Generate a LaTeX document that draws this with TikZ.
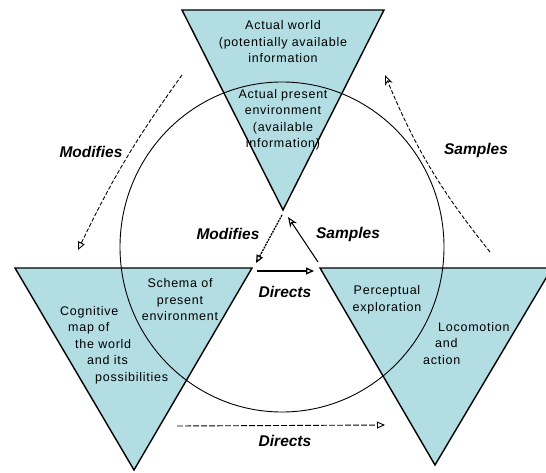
\documentclass[tikz,border=0pt]{standalone}
\usepackage{fontspec}
\setmainfont{Liberation Sans}
\newfontfamily\lblfont[LetterSpace=6]{Liberation Sans}
\usetikzlibrary{arrows.meta}

\newlength{\du}
\setlength{\du}{1pt}

\definecolor{trifill}{RGB}{178,221,226}

\tikzset{
  wedge/.style={fill=trifill, draw=black, line width=1.4\du, line join=miter},
  lbl/.style={font=\lblfont\fontsize{12.5}{16.5}\selectfont, align=center, inner sep=0pt},
  verb/.style={font=\bfseries\itshape\fontsize{15.5}{18}\selectfont, inner sep=0pt},
  flow/.style={line width=0.9\du, dash pattern=on 4pt off 2pt},
  opentip/.style={-{Triangle[open,length=8pt,width=7pt]}},
  pointtip/.style={-{Stealth[open,length=10pt,width=8pt,inset=3pt]}},
}

\begin{document}
\begin{tikzpicture}
\pgftransformxscale{1.000000}
\pgftransformyscale{-1.000000}
\useasboundingbox (0\du,0\du) rectangle (546\du,473\du);

% the three wedges
\draw[wedge] (182\du,10\du)--(384\du,10\du)--(283\du,210\du)--cycle;
\draw[wedge] (15\du,268\du)--(252\du,268\du)--(134\du,470\du)--cycle;
\draw[wedge] (320\du,268\du)--(552\du,268\du)--(435\du,465\du)--cycle;

% the circle
\draw[line width=0.9\du] (282\du,247\du) ellipse [x radius=162\du, y radius=165\du];

% texts in the wedges
\node[lbl] (world) at (283\du,42\du) {Actual world\\(potentially available\\information};
\node[lbl] (present) at (283\du,120\du) {Actual present\\environment\\(available\\information)};
\node[lbl] (schema) at (180\du,300\du) {Schema of\\present\\environment};
\node[lbl, align=left, anchor=north west] (cogmap) at (60\du,306\du)
  {Cognitive\\\hspace*{8\du}map of\\\hspace*{15\du}the world\\\hspace*{27\du}and its\\\hspace*{35\du}possibilities};
\node[lbl] (percept) at (387\du,300\du) {Perceptual\\exploration};
\node[lbl, align=left, anchor=north west] (locomotion) at (423\du,322\du)
  {\hspace*{15\du}Locomotion\\\hspace*{12\du}and\\action};

% verbs
\node[verb] (modout) at (91\du,152\du) {Modifies};
\node[verb] (sampout) at (476\du,150\du) {Samples};
\node[verb] (modin) at (228\du,234\du) {Modifies};
\node[verb] (sampin) at (348\du,234\du) {Samples};
\node[verb] (dirin) at (285\du,292\du) {Directs};
\node[verb] (dirout) at (285\du,441\du) {Directs};

% arrow ends
\coordinate (mo-a) at (182\du,75\du);
\coordinate (mo-b) at (78\du,250\du);
\coordinate (so-a) at (490\du,252\du);
\coordinate (so-b) at (385\du,75\du);
\coordinate (mi-a) at (282\du,215\du);
\coordinate (mi-b) at (256\du,263\du);
\coordinate (si-a) at (318\du,262\du);
\coordinate (si-b) at (288\du,217\du);
\coordinate (di-a) at (257\du,271\du);
\coordinate (di-b) at (314\du,271\du);
\coordinate (do-a) at (177\du,426\du);
\coordinate (do-b) at (385\du,425\du);

\draw[flow, opentip] (mo-a) to[bend left=5] (mo-b);
\draw[flow, pointtip] (so-a) to[bend right=8] (so-b);
\draw[flow, opentip, line width=1.3\du, dash pattern=on 2pt off 1pt] (mi-a) -- (mi-b);
\draw[line width=1\du, pointtip] (si-a) -- (si-b);
\draw[line width=1.3\du, opentip] (di-a) -- (di-b);
\draw[flow, opentip, dash pattern=on 6pt off 2pt] (do-a) -- (do-b);
\end{tikzpicture}
\end{document}
